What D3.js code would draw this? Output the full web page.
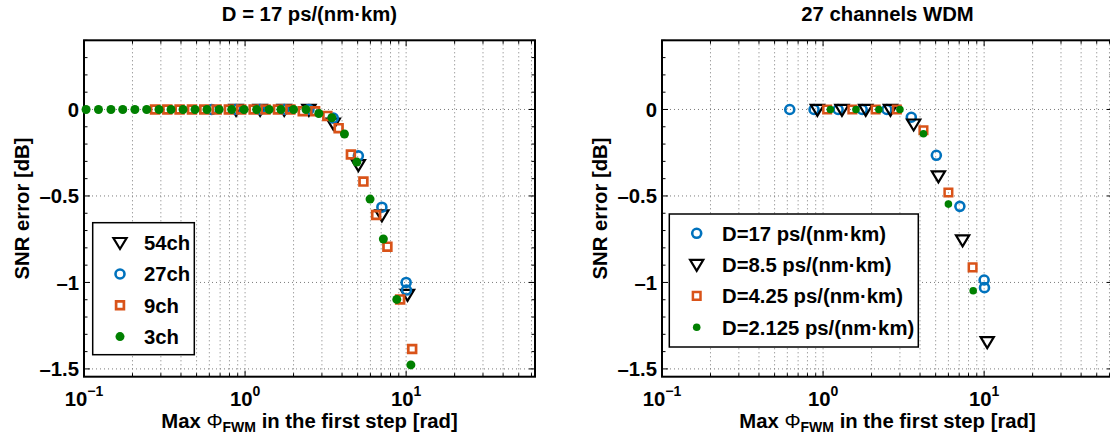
<!DOCTYPE html>
<html><head><meta charset="utf-8">
<script src="https://cdn.jsdelivr.net/npm/d3@7"></script>
<style>body{margin:0;background:#fff}svg{display:block}text{font-family:"Liberation Sans",Arial,sans-serif;font-weight:bold;fill:#000}</style>
</head><body><svg id="c" width="1110" height="436"></svg>
<script>
// ---- data: left panel (D = 17 ps/(nm·km)) ----
const ch54X = [0.879, 1.24, 1.75, 2.49, 3.53, 5.05, 7.07, 10.2];
const ch54Y = [0, 0, 0, 0, -0.08, -0.32, -0.61, -1.07];
const ch27X = [0.621, 0.879, 1.24, 1.75, 2.49, 3.53, 5.05, 7.07, 10.0, 10.05];
const ch27Y = [0, 0, 0, 0, 0, -0.05, -0.268, -0.565, -1.0, -1.044];
const ch9X = [0.276, 0.329, 0.392, 0.468, 0.558, 0.666, 0.793, 0.946, 1.13, 1.34, 1.60, 1.91, 2.28, 2.72, 3.24, 3.81, 4.54, 5.43, 6.51, 7.65, 9.18, 10.9];
const ch9Y = [0, 0, 0, 0, 0, 0, 0, 0, 0, 0, 0, 0, -0.01, -0.01, -0.037, -0.108, -0.26, -0.417, -0.61, -0.793, -1.098, -1.385];
const ch3X = [0.103, 0.123, 0.147, 0.174, 0.207, 0.245, 0.292, 0.347, 0.412, 0.489, 0.580, 0.690, 0.826, 0.986, 1.18, 1.41, 1.67, 2.00, 2.39, 2.87, 3.46, 4.14, 4.94, 5.97, 7.22, 8.75, 10.7];
const ch3Y = [0, 0, 0, 0, 0, 0, 0, 0, 0, 0, 0, 0, 0, 0, 0, 0, 0, 0, 0, -0.023, -0.048, -0.142, -0.304, -0.518, -0.749, -1.098, -1.477];
// ---- data: right panel (27 channels WDM) ----
const d17X = [0.621, 0.879, 1.24, 1.75, 2.49, 3.53, 5.05, 7.07, 10.0, 10.05];
const d17Y = [0, 0, 0, 0, 0, -0.045, -0.265, -0.56, -0.986, -1.03];
const d85X = [0.922, 1.31, 1.84, 2.62, 3.65, 5.2, 7.35, 10.45];
const d85Y = [0, 0, 0, 0, -0.085, -0.385, -0.755, -1.343];
const d425X = [1.06, 1.52, 2.12, 2.87, 4.2, 6.0, 8.48];
const d425Y = [0, 0, 0, 0, -0.12, -0.48, -0.913];
const d2125X = [1.11, 1.6, 2.22, 3.0, 4.2, 6.0, 8.55];
const d2125Y = [0, 0, 0, 0, -0.14, -0.547, -1.048];
// ---- labels / ticks ----
const titles = ["D = 17 ps/(nm\u00b7km)", "27 channels WDM"];
const legendLeft = ["54ch", "27ch", "9ch", "3ch"];
const legendRight = ["D=17 ps/(nm\u00b7km)", "D=8.5 ps/(nm\u00b7km)", "D=4.25 ps/(nm\u00b7km)", "D=2.125 ps/(nm\u00b7km)"];
const xTickVals = [0.1, 1, 10];
const xTickExp = ["\u22121", "0", "1"];
const yTickVals = [-1.5, -1, -0.5, 0];
const yTickLabels = ["\u20131.5", "\u20131", "\u20130.5", "0"];
const xDomain = [0.1, 63.1];
const yDomain = [-1.545, 0.4];

const FS = 20.3;
const svg = d3.select("#c");
svg.append("rect").attr("width",1110).attr("height",436).attr("fill","#fff");

const BLUE="#0072BD", ORANGE="#D95319", GREEN="#008000";

function markerPath(type, sz){
  if(type==="tri"){ const h=sz*0.95, w=sz*0.6; return `M${-w},${-h*0.45}L${w},${-h*0.45}L0,${h*0.6}Z`; }
  if(type==="sq"){ const s=sz/2; return `M${-s},${-s}H${s}V${s}H${-s}Z`; }
  return null;
}
function drawMarker(g, type, x, y, opt){
  if(type==="circ"){
    g.append("circle").attr("cx",x).attr("cy",y).attr("r",opt.r).attr("fill","none").attr("stroke",opt.c).attr("stroke-width",opt.sw);
  } else if(type==="dot"){
    g.append("circle").attr("cx",x).attr("cy",y).attr("r",opt.r).attr("fill",opt.c);
  } else {
    g.append("path").attr("transform",`translate(${x},${y})`).attr("d",markerPath(type,opt.sz)).attr("fill","none").attr("stroke",opt.c).attr("stroke-width",opt.sw).attr("stroke-linejoin","miter");
  }
}

function panel(cfg){
  const x = d3.scaleLog().domain(xDomain).range([cfg.x0, cfg.x1]);
  const y = d3.scaleLinear().domain(yDomain).range([376.7, 40.3]);
  const g = svg.append("g");
  const [X0,X1] = x.range(), [Y1,Y0] = y.range();
  // grid
  const minor=[];
  [0.1,1,10].forEach(d=>{for(let k=1;k<=9;k++){const v=k*d; if(v>=xDomain[0]&&v<=xDomain[1]) minor.push(v);}});
  const grid=g.append("g").attr("stroke","#444").attr("stroke-width",1).attr("stroke-dasharray","1,3").attr("opacity",0.7);
  minor.forEach(v=>{ if(v>0.1) grid.append("line").attr("x1",x(v)).attr("x2",x(v)).attr("y1",Y0).attr("y2",Y1); });
  yTickVals.forEach(v=>grid.append("line").attr("x1",X0).attr("x2",X1).attr("y1",y(v)).attr("y2",y(v)));
  // ticks (inside)
  const tk=g.append("g").attr("stroke","#000").attr("stroke-width",1);
  minor.forEach(v=>{
    const L = xTickVals.includes(v)?6:3.5;
    tk.append("line").attr("x1",x(v)).attr("x2",x(v)).attr("y1",Y1).attr("y2",Y1-L);
    tk.append("line").attr("x1",x(v)).attr("x2",x(v)).attr("y1",Y0).attr("y2",Y0+L);
  });
  d3.range(-15,5).map(i=>i/10).forEach(v=>{
    const L = yTickVals.some(t=>Math.abs(t-v)<1e-9)?6:3.5;
    tk.append("line").attr("x1",X0).attr("x2",X0+L).attr("y1",y(v)).attr("y2",y(v));
    tk.append("line").attr("x1",X1).attr("x2",X1-L).attr("y1",y(v)).attr("y2",y(v));
  });
  // box
  g.append("rect").attr("x",X0).attr("y",Y0).attr("width",X1-X0).attr("height",Y1-Y0).attr("fill","none").attr("stroke","#000").attr("stroke-width",2);
  // tick labels
  yTickVals.forEach((v,i)=>g.append("text").attr("x",X0-5).attr("y",y(v)).attr("dy","0.36em").attr("text-anchor","end").attr("font-size",FS).text(yTickLabels[i]));
  xTickVals.forEach((v,i)=>{
    const t=g.append("text").attr("x",x(v)).attr("y",406).attr("text-anchor","middle").attr("font-size",FS);
    t.append("tspan").text("10");
    t.append("tspan").attr("dy",-10).attr("font-size",14).text(xTickExp[i]);
  });
  // axis labels
  const xl=g.append("text").attr("x",(X0+X1)/2).attr("y",428).attr("text-anchor","middle").attr("font-size",FS);
  xl.append("tspan").text("Max ");
  xl.append("tspan").attr("font-weight","normal").text("\u03a6");
  xl.append("tspan").attr("dy",4).attr("font-size",14).text("FWM");
  xl.append("tspan").attr("dy",-4).text(" in the first step [rad]");
  g.append("text").attr("transform",`translate(${cfg.ylx},${(Y0+Y1)/2}) rotate(-90)`).attr("text-anchor","middle").attr("dy","0.35em").attr("font-size",FS).text("SNR error [dB]");
  g.append("text").attr("x",(X0+X1)/2).attr("y",21).attr("text-anchor","middle").attr("font-size",FS).text(cfg.title);
  // data
  const dg=g.append("g");
  cfg.series.forEach(s=>{
    s.xs.forEach((xv,i)=>drawMarker(dg, s.type, x(xv), y(s.ys[i]), s.opt));
  });
  // legend
  const lg=g.append("g");
  const L=cfg.legend;
  lg.append("rect").attr("x",L.x).attr("y",L.y).attr("width",L.w).attr("height",L.h).attr("fill","#fff").attr("stroke","#000").attr("stroke-width",1.5);
  L.order.forEach((si,i)=>{
    const s=cfg.series[si];
    const yy=L.row0+i*L.dy;
    drawMarker(lg, s.type, L.mx, yy, s.opt);
    lg.append("text").attr("x",L.tx).attr("y",yy).attr("dy","0.36em").attr("font-size",FS).text(L.labels[i]);
  });
}

panel({x0:84, x1:535, ylx:22, title:titles[0],
  series:[
    {xs:ch54X, ys:ch54Y, type:"tri", opt:{c:"#000", sz:11, sw:2.2}},
    {xs:ch27X, ys:ch27Y, type:"circ", opt:{c:BLUE, r:4.5, sw:2.6}},
    {xs:ch9X, ys:ch9Y, type:"sq", opt:{c:ORANGE, sz:7.8, sw:2.7}},
    {xs:ch3X, ys:ch3Y, type:"dot", opt:{c:GREEN, r:4.5}}
  ],
  legend:{x:92.7,y:222.7,w:101.6,h:132,mx:120,tx:144,row0:242.7,dy:31.3,order:[0,1,2,3],labels:legendLeft}
});
panel({x0:662, x1:1113, ylx:600, title:titles[1],
  series:[
    {xs:d17X, ys:d17Y, type:"circ", opt:{c:BLUE, r:4.5, sw:2.6}},
    {xs:d85X, ys:d85Y, type:"tri", opt:{c:"#000", sz:11, sw:2.2}},
    {xs:d425X, ys:d425Y, type:"sq", opt:{c:ORANGE, sz:7.6, sw:2.5}},
    {xs:d2125X, ys:d2125Y, type:"dot", opt:{c:GREEN, r:3.8}}
  ],
  legend:{x:669.3,y:214,w:249,h:133,mx:696.7,tx:722,row0:233.3,dy:31.3,order:[0,1,2,3],labels:legendRight}
});
</script></body></html>
